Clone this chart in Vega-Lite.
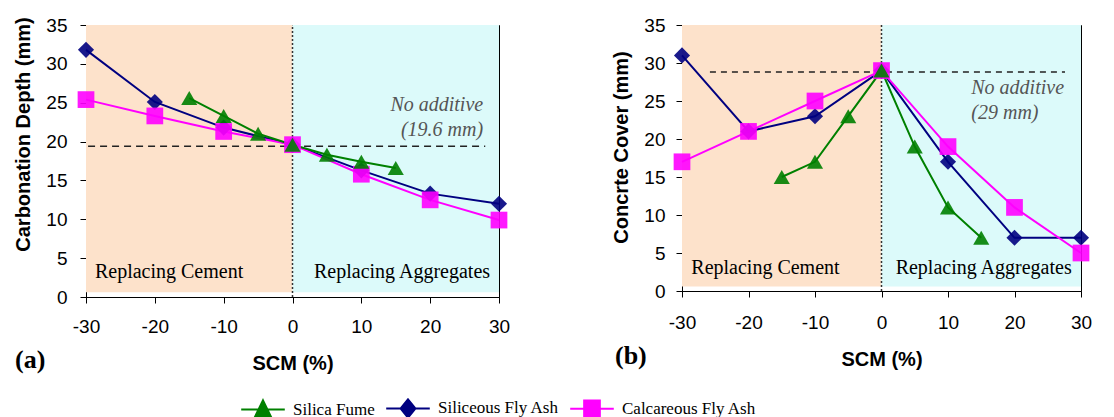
{
  "$schema": "https://vega.github.io/schema/vega-lite/v6.json",
  "padding": {"left": 13, "top": 15, "right": 5, "bottom": 0},
  "datasets": {
    "zones": [
      {"zone": "cement", "scm": -30, "scm2": 0, "value": 0.6, "value2": 35, "note": "Replacing Cement"},
      {"zone": "aggregates", "scm": 0, "scm2": 30, "value": 0.6, "value2": 35, "note": "Replacing Aggregates"}
    ],
    "refA": [{"ref": "No additive", "note": ["No additive", "(19.6 mm)"]}],
    "refB": [{"ref": "No additive", "note": ["No additive", "(29 mm)"]}],
    "a": [
      {"series": "Siliceous Fly Ash", "scm": -30, "value": 31.8},
      {"series": "Siliceous Fly Ash", "scm": -20, "value": 25.1},
      {"series": "Siliceous Fly Ash", "scm": -10, "value": 21.8},
      {"series": "Siliceous Fly Ash", "scm": 0, "value": 19.6},
      {"series": "Siliceous Fly Ash", "scm": 10, "value": 16.3},
      {"series": "Siliceous Fly Ash", "scm": 20, "value": 13.3},
      {"series": "Siliceous Fly Ash", "scm": 30, "value": 12.0},
      {"series": "Calcareous Fly Ash", "scm": -30, "value": 25.4},
      {"series": "Calcareous Fly Ash", "scm": -20, "value": 23.3},
      {"series": "Calcareous Fly Ash", "scm": -10, "value": 21.3},
      {"series": "Calcareous Fly Ash", "scm": 0, "value": 19.6},
      {"series": "Calcareous Fly Ash", "scm": 10, "value": 15.8},
      {"series": "Calcareous Fly Ash", "scm": 20, "value": 12.5},
      {"series": "Calcareous Fly Ash", "scm": 30, "value": 9.9},
      {"series": "Silica Fume", "scm": -15, "value": 25.6},
      {"series": "Silica Fume", "scm": -10, "value": 23.3},
      {"series": "Silica Fume", "scm": -5, "value": 21.0},
      {"series": "Silica Fume", "scm": 0, "value": 19.6},
      {"series": "Silica Fume", "scm": 5, "value": 18.3},
      {"series": "Silica Fume", "scm": 10, "value": 17.4},
      {"series": "Silica Fume", "scm": 15, "value": 16.6}
    ],
    "b": [
      {"series": "Siliceous Fly Ash", "scm": -30, "value": 31},
      {"series": "Siliceous Fly Ash", "scm": -20, "value": 21},
      {"series": "Siliceous Fly Ash", "scm": -10, "value": 23},
      {"series": "Siliceous Fly Ash", "scm": 0, "value": 29},
      {"series": "Siliceous Fly Ash", "scm": 10, "value": 17},
      {"series": "Siliceous Fly Ash", "scm": 20, "value": 7},
      {"series": "Siliceous Fly Ash", "scm": 30, "value": 7},
      {"series": "Calcareous Fly Ash", "scm": -30, "value": 17},
      {"series": "Calcareous Fly Ash", "scm": -20, "value": 21},
      {"series": "Calcareous Fly Ash", "scm": -10, "value": 25},
      {"series": "Calcareous Fly Ash", "scm": 0, "value": 29},
      {"series": "Calcareous Fly Ash", "scm": 10, "value": 19},
      {"series": "Calcareous Fly Ash", "scm": 20, "value": 11},
      {"series": "Calcareous Fly Ash", "scm": 30, "value": 5},
      {"series": "Silica Fume", "scm": -15, "value": 15},
      {"series": "Silica Fume", "scm": -10, "value": 17},
      {"series": "Silica Fume", "scm": -5, "value": 23},
      {"series": "Silica Fume", "scm": 0, "value": 29},
      {"series": "Silica Fume", "scm": 5, "value": 19},
      {"series": "Silica Fume", "scm": 10, "value": 11},
      {"series": "Silica Fume", "scm": 15, "value": 7}
    ]
  },
  "spacing": 100,
  "resolve": {"scale": {"color": "shared"}, "legend": {"color": "shared"}},
  "hconcat": [
    {
      "width": 413,
      "height": 272,
      "title": {"text": "(a)", "orient": "bottom", "anchor": "start", "frame": "group", "dx": -71, "offset": -26, "font": "Liberation Serif", "fontSize": 26, "fontWeight": "bold", "color": "black"},
      "layer": [
        {"data": {"name": "zones"}, "transform": [{"filter": "datum.zone == 'cement'"}], "mark": {"type": "rect", "color": "#fde2cb"},
         "encoding": {
           "x": {"field": "scm", "type": "quantitative", "scale": {"domain": [-30, 30], "nice": false, "zero": false},
                 "axis": {"title": "SCM (%)", "values": [-30, -20, -10, 0, 10, 20, 30], "labelPadding": 14, "titlePadding": 17}},
           "y": {"field": "value", "type": "quantitative", "scale": {"domain": [0, 35], "nice": false},
                 "axis": {"title": "Carbonation Depth (mm)", "values": [0, 5, 10, 15, 20, 25, 30, 35], "tickCount": 8, "labelPadding": 13, "titlePadding": 12, "titleY": 109}},
           "x2": {"field": "scm2"}, "y2": {"field": "value2"}}},
        {"data": {"name": "zones"}, "transform": [{"filter": "datum.zone == 'aggregates'"}], "mark": {"type": "rect", "color": "#dcfafa"},
         "encoding": {"x": {"field": "scm", "type": "quantitative"},
           "y": {"field": "value", "type": "quantitative", "axis": {"title": "Carbonation Depth (mm)", "values": [0, 5, 10, 15, 20, 25, 30, 35], "tickCount": 8, "labelPadding": 13, "titlePadding": 12, "titleY": 109}},
           "x2": {"field": "scm2"}, "y2": {"field": "value2"}}},
        {"data": {"name": "refA"}, "mark": {"type": "rule", "color": "#333", "strokeDash": [2, 2], "strokeWidth": 1.5}, "encoding": {"x": {"datum": 0}, "y": {"datum": 0, "axis": {"title": "Carbonation Depth (mm)", "values": [0, 5, 10, 15, 20, 25, 30, 35], "tickCount": 8, "labelPadding": 13, "titlePadding": 12, "titleY": 109}}, "y2": {"datum": 35}}},
        {"data": {"name": "refA"}, "mark": {"type": "rule", "color": "#222", "strokeDash": [7, 5], "strokeWidth": 1.5}, "encoding": {"x": {"datum": -29.7}, "x2": {"datum": 28}, "y": {"datum": 19.4, "axis": {"title": "Carbonation Depth (mm)", "values": [0, 5, 10, 15, 20, 25, 30, 35], "tickCount": 8, "labelPadding": 13, "titlePadding": 12, "titleY": 109}}}},
        {"data": {"name": "refA"}, "mark": {"type": "text", "align": "right", "baseline": "middle", "font": "Liberation Serif", "fontStyle": "italic", "fontSize": 20, "color": "#555", "lineHeight": 25}, "encoding": {"x": {"datum": 27.7}, "y": {"datum": 24.7, "axis": {"title": "Carbonation Depth (mm)", "values": [0, 5, 10, 15, 20, 25, 30, 35], "tickCount": 8, "labelPadding": 13, "titlePadding": 12, "titleY": 109}}, "text": {"field": "note"}}},
        {"data": {"name": "zones"}, "transform": [{"filter": "datum.zone == 'cement'"}], "mark": {"type": "text", "align": "left", "baseline": "middle", "font": "Liberation Serif", "fontSize": 20, "color": "black"}, "encoding": {"x": {"datum": -28.7}, "y": {"datum": 3.2, "axis": {"title": "Carbonation Depth (mm)", "values": [0, 5, 10, 15, 20, 25, 30, 35], "tickCount": 8, "labelPadding": 13, "titlePadding": 12, "titleY": 109}}, "text": {"field": "note"}}},
        {"data": {"name": "zones"}, "transform": [{"filter": "datum.zone == 'aggregates'"}], "mark": {"type": "text", "align": "right", "baseline": "middle", "font": "Liberation Serif", "fontSize": 20, "color": "black"}, "encoding": {"x": {"datum": 28.7}, "y": {"datum": 3.2, "axis": {"title": "Carbonation Depth (mm)", "values": [0, 5, 10, 15, 20, 25, 30, 35], "tickCount": 8, "labelPadding": 13, "titlePadding": 12, "titleY": 109}}, "text": {"field": "note"}}},
        {"data": {"name": "a"}, "mark": {"type": "line", "strokeWidth": 2},
         "encoding": {"x": {"field": "scm", "type": "quantitative"},
           "y": {"field": "value", "type": "quantitative", "axis": {"title": "Carbonation Depth (mm)", "values": [0, 5, 10, 15, 20, 25, 30, 35], "tickCount": 8, "labelPadding": 13, "titlePadding": 12, "titleY": 109}},
           "color": {"field": "series", "type": "nominal", "scale": {"domain": ["Silica Fume", "Siliceous Fly Ash", "Calcareous Fly Ash"], "range": ["#008000", "#000080", "#ff00ff"]},
             "legend": {"orient": "none", "legendX": 154, "legendY": 360, "direction": "horizontal", "title": null,
               "labelFont": "Liberation Serif", "labelFontSize": 17, "labelColor": "black", "labelBaseline": "middle", "symbolSize": 1900, "symbolStrokeWidth": 2,
               "columnPadding": 7, "labelOffset": 7,
               "encoding": {"symbols": {
                 "shape": {"condition": [
                   {"test": "datum.value === 'Silica Fume'", "value": "M-1,0H1M0,-0.42L0.36,0.32H-0.36Z"},
                   {"test": "datum.value === 'Siliceous Fly Ash'", "value": "M-1,0H1M0,-0.42L0.34,0L0,0.42L-0.34,0Z"}],
                   "value": "M-1,0H1M-0.36,-0.38H0.36V0.38H-0.36Z"},
                 "opacity": {"value": 1},
                 "strokeWidth": {"value": 2}}}}}}},
        {"data": {"name": "a"}, "transform": [{"filter": "datum.series == 'Siliceous Fly Ash'"}], "mark": {"type": "point", "filled": true, "size": 260, "shape": "diamond", "opacity": 0.9},
         "encoding": {"x": {"field": "scm", "type": "quantitative"}, "y": {"field": "value", "type": "quantitative", "axis": {"title": "Carbonation Depth (mm)", "values": [0, 5, 10, 15, 20, 25, 30, 35], "tickCount": 8, "labelPadding": 13, "titlePadding": 12, "titleY": 109}}, "color": {"field": "series", "type": "nominal"}}},
        {"data": {"name": "a"}, "transform": [{"filter": "datum.series == 'Calcareous Fly Ash'"}], "mark": {"type": "point", "filled": true, "size": 280, "shape": "square", "opacity": 0.9},
         "encoding": {"x": {"field": "scm", "type": "quantitative"}, "y": {"field": "value", "type": "quantitative", "axis": {"title": "Carbonation Depth (mm)", "values": [0, 5, 10, 15, 20, 25, 30, 35], "tickCount": 8, "labelPadding": 13, "titlePadding": 12, "titleY": 109}}, "color": {"field": "series", "type": "nominal"}}},
        {"data": {"name": "a"}, "transform": [{"filter": "datum.series == 'Silica Fume'"}], "mark": {"type": "point", "filled": true, "size": 260, "shape": "triangle-up", "opacity": 0.9},
         "encoding": {"x": {"field": "scm", "type": "quantitative"}, "y": {"field": "value", "type": "quantitative", "axis": {"title": "Carbonation Depth (mm)", "values": [0, 5, 10, 15, 20, 25, 30, 35], "tickCount": 8, "labelPadding": 13, "titlePadding": 12, "titleY": 109}}, "color": {"field": "series", "type": "nominal"}}}
      ]
    },
    {
      "width": 399,
      "height": 266,
      "title": {"text": "(b)", "orient": "bottom", "anchor": "start", "frame": "group", "dx": -67, "offset": -26, "font": "Liberation Serif", "fontSize": 26, "fontWeight": "bold", "color": "black"},
      "layer": [
        {"data": {"name": "zones"}, "transform": [{"filter": "datum.zone == 'cement'"}], "mark": {"type": "rect", "color": "#fde2cb"},
         "encoding": {
           "x": {"field": "scm", "type": "quantitative", "scale": {"domain": [-30, 30], "nice": false, "zero": false},
                 "axis": {"title": "SCM (%)", "values": [-30, -20, -10, 0, 10, 20, 30], "labelPadding": 16, "titlePadding": 17}},
           "y": {"field": "value", "type": "quantitative", "scale": {"domain": [0, 35], "nice": false},
                 "axis": {"title": "Concrte Cover (mm)", "values": [0, 5, 10, 15, 20, 25, 30, 35], "tickCount": 8, "labelPadding": 11, "titlePadding": 12, "titleY": 122}},
           "x2": {"field": "scm2"}, "y2": {"field": "value2"}}},
        {"data": {"name": "zones"}, "transform": [{"filter": "datum.zone == 'aggregates'"}], "mark": {"type": "rect", "color": "#dcfafa"},
         "encoding": {"x": {"field": "scm", "type": "quantitative"},
           "y": {"field": "value", "type": "quantitative", "axis": {"title": "Concrte Cover (mm)", "values": [0, 5, 10, 15, 20, 25, 30, 35], "tickCount": 8, "labelPadding": 11, "titlePadding": 12, "titleY": 122}},
           "x2": {"field": "scm2"}, "y2": {"field": "value2"}}},
        {"data": {"name": "refB"}, "mark": {"type": "rule", "color": "#333", "strokeDash": [2, 2], "strokeWidth": 1.5}, "encoding": {"x": {"datum": 0}, "y": {"datum": 0, "axis": {"title": "Concrte Cover (mm)", "values": [0, 5, 10, 15, 20, 25, 30, 35], "tickCount": 8, "labelPadding": 11, "titlePadding": 12, "titleY": 122}}, "y2": {"datum": 35}}},
        {"data": {"name": "refB"}, "mark": {"type": "rule", "color": "#222", "strokeDash": [6, 5], "strokeWidth": 1.5}, "encoding": {"x": {"datum": -25.8}, "x2": {"datum": 27.6}, "y": {"datum": 28.8, "axis": {"title": "Concrte Cover (mm)", "values": [0, 5, 10, 15, 20, 25, 30, 35], "tickCount": 8, "labelPadding": 11, "titlePadding": 12, "titleY": 122}}}},
        {"data": {"name": "refB"}, "mark": {"type": "text", "align": "left", "baseline": "middle", "font": "Liberation Serif", "fontStyle": "italic", "fontSize": 20, "color": "#555", "lineHeight": 25}, "encoding": {"x": {"datum": 13.5}, "y": {"datum": 26.7, "axis": {"title": "Concrte Cover (mm)", "values": [0, 5, 10, 15, 20, 25, 30, 35], "tickCount": 8, "labelPadding": 11, "titlePadding": 12, "titleY": 122}}, "text": {"field": "note"}}},
        {"data": {"name": "zones"}, "transform": [{"filter": "datum.zone == 'cement'"}], "mark": {"type": "text", "align": "left", "baseline": "middle", "font": "Liberation Serif", "fontSize": 20, "color": "black"}, "encoding": {"x": {"datum": -28.6}, "y": {"datum": 3.0, "axis": {"title": "Concrte Cover (mm)", "values": [0, 5, 10, 15, 20, 25, 30, 35], "tickCount": 8, "labelPadding": 11, "titlePadding": 12, "titleY": 122}}, "text": {"field": "note"}}},
        {"data": {"name": "zones"}, "transform": [{"filter": "datum.zone == 'aggregates'"}], "mark": {"type": "text", "align": "right", "baseline": "middle", "font": "Liberation Serif", "fontSize": 20, "color": "black"}, "encoding": {"x": {"datum": 28.6}, "y": {"datum": 3.0, "axis": {"title": "Concrte Cover (mm)", "values": [0, 5, 10, 15, 20, 25, 30, 35], "tickCount": 8, "labelPadding": 11, "titlePadding": 12, "titleY": 122}}, "text": {"field": "note"}}},
        {"data": {"name": "b"}, "mark": {"type": "line", "strokeWidth": 2},
         "encoding": {"x": {"field": "scm", "type": "quantitative"},
           "y": {"field": "value", "type": "quantitative", "axis": {"title": "Concrte Cover (mm)", "values": [0, 5, 10, 15, 20, 25, 30, 35], "tickCount": 8, "labelPadding": 11, "titlePadding": 12, "titleY": 122}},
           "color": {"field": "series", "type": "nominal"}}},
        {"data": {"name": "b"}, "transform": [{"filter": "datum.series == 'Siliceous Fly Ash'"}], "mark": {"type": "point", "filled": true, "size": 260, "shape": "diamond", "opacity": 0.9},
         "encoding": {"x": {"field": "scm", "type": "quantitative"}, "y": {"field": "value", "type": "quantitative", "axis": {"title": "Concrte Cover (mm)", "values": [0, 5, 10, 15, 20, 25, 30, 35], "tickCount": 8, "labelPadding": 11, "titlePadding": 12, "titleY": 122}}, "color": {"field": "series", "type": "nominal"}}},
        {"data": {"name": "b"}, "transform": [{"filter": "datum.series == 'Calcareous Fly Ash'"}], "mark": {"type": "point", "filled": true, "size": 280, "shape": "square", "opacity": 0.9},
         "encoding": {"x": {"field": "scm", "type": "quantitative"}, "y": {"field": "value", "type": "quantitative", "axis": {"title": "Concrte Cover (mm)", "values": [0, 5, 10, 15, 20, 25, 30, 35], "tickCount": 8, "labelPadding": 11, "titlePadding": 12, "titleY": 122}}, "color": {"field": "series", "type": "nominal"}}},
        {"data": {"name": "b"}, "transform": [{"filter": "datum.series == 'Silica Fume'"}], "mark": {"type": "point", "filled": true, "size": 260, "shape": "triangle-up", "opacity": 0.9},
         "encoding": {"x": {"field": "scm", "type": "quantitative"}, "y": {"field": "value", "type": "quantitative", "axis": {"title": "Concrte Cover (mm)", "values": [0, 5, 10, 15, 20, 25, 30, 35], "tickCount": 8, "labelPadding": 11, "titlePadding": 12, "titleY": 122}}, "color": {"field": "series", "type": "nominal"}}}
      ]
    }
  ],
  "config": {
    "view": {"stroke": "black", "strokeWidth": 1},
    "axis": {"grid": false, "domainColor": "black", "tickColor": "black", "tickSize": 6,
             "labelFont": "Liberation Sans", "labelFontSize": 19, "labelColor": "black", "labelOverlap": false,
             "titleFont": "Liberation Sans", "titleFontSize": 20, "titleFontWeight": "bold", "titleColor": "black"},
    "axisX": {"tickCount": 7, "labelExpr": "'' + datum.value", "labelFlush": false}
  }
}
